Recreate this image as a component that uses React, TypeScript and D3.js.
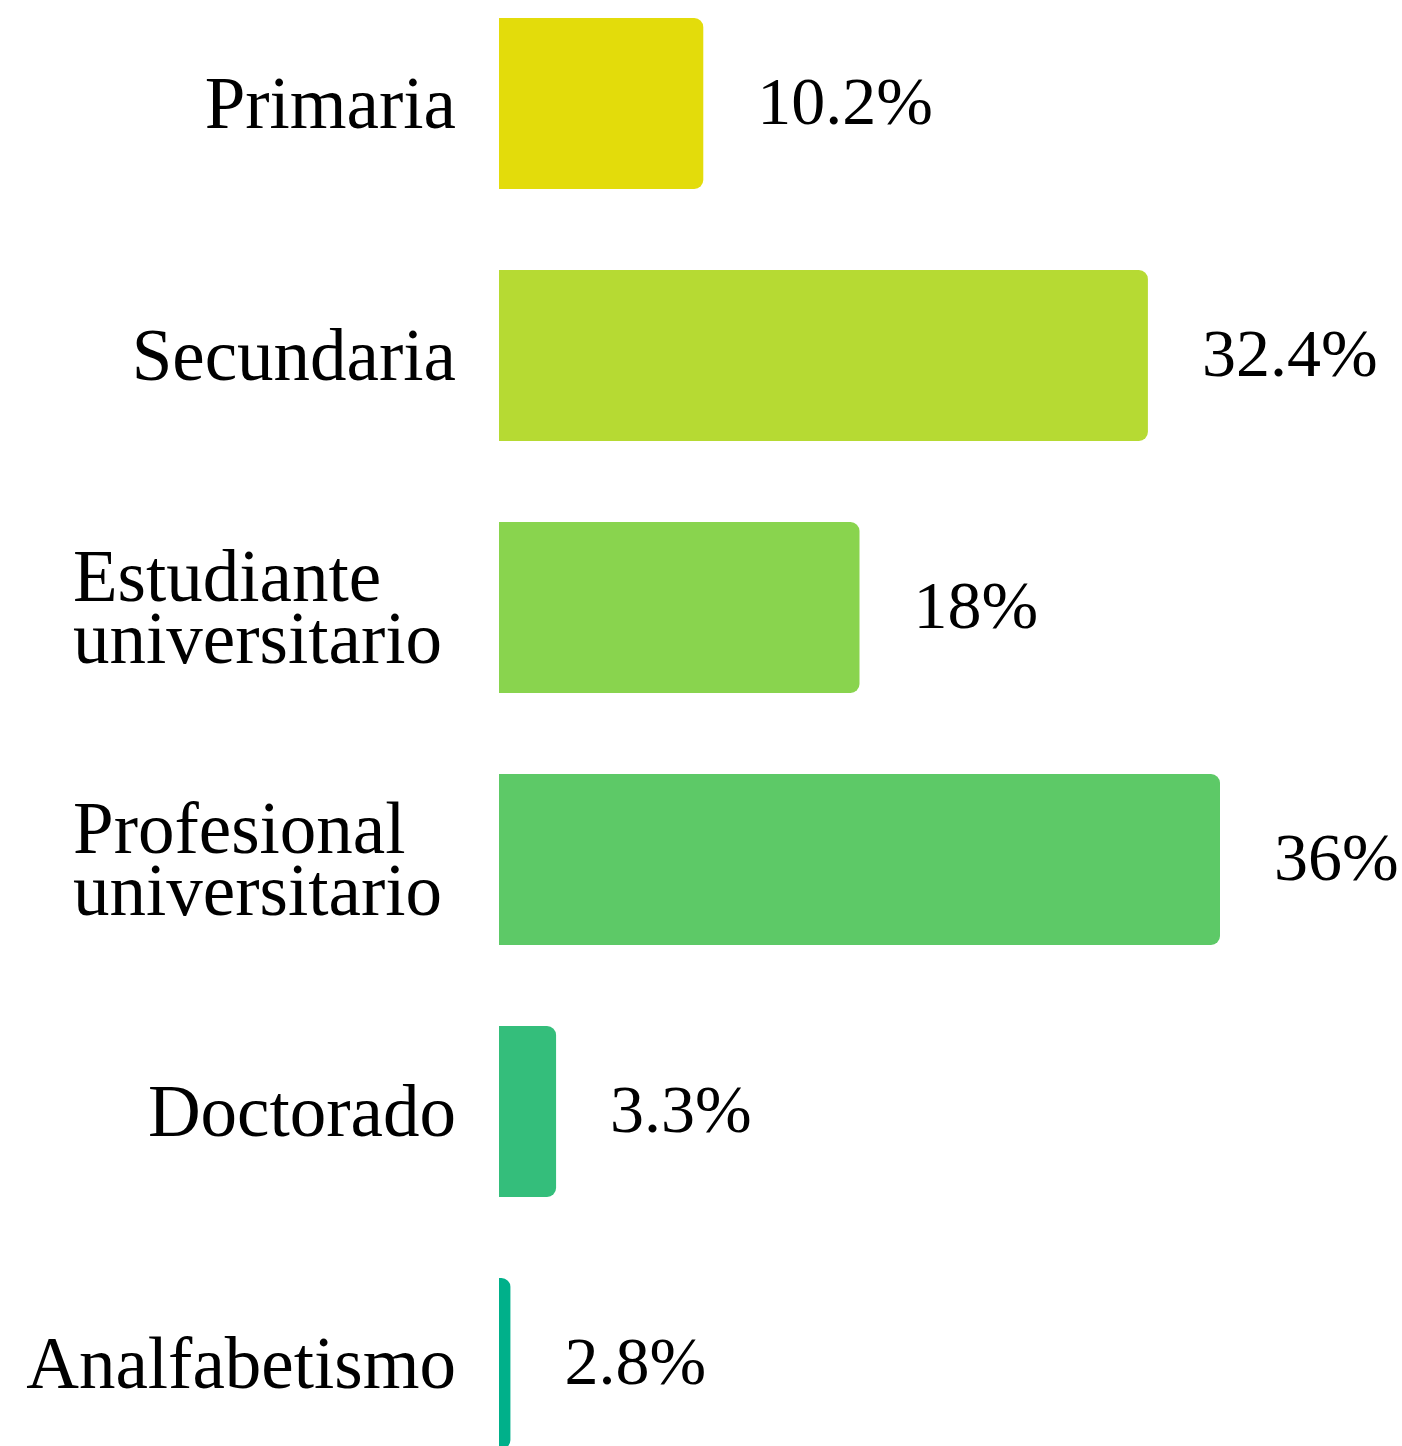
import { useEffect, useRef } from "react";
import * as d3 from "d3";

// Categorías (cada elemento es una línea de la etiqueta)
const categorias: string[][] = [
  ["Primaria"],
  ["Secundaria"],
  ["Estudiante", "universitario"],
  ["Profesional", "universitario"],
  ["Doctorado"],
  ["Analfabetismo"],
];

// Longitud de cada barra tal como se ve en la imagen
const longitudes = [10.2, 32.4, 18, 36, 2.85, 0.57];

// Porcentaje impreso junto a cada barra
const porcentajes = [10.2, 32.4, 18, 36, 3.3, 2.8];

const colores = ["#e3dc0b", "#b6da33", "#89d44e", "#5dc967", "#34be7b", "#00b08a"];

const ANCHO = 1402;
const ALTO = 1446;

const App = () => {
  const svgRef = useRef<SVGSVGElement | null>(null);

  useEffect(() => {
    if (!svgRef.current) return;
    const svg = d3.select(svgRef.current);
    svg.selectAll("*").remove();

    const fuente = "'Liberation Serif', 'Times New Roman', serif";
    const tamCat = 73;
    const tamValor = 68;
    const interlineado = 62;
    const bordeEtiquetas = 456; // borde derecho de las etiquetas de una línea
    const bordeBloque = 442; // borde derecho de los bloques de dos líneas
    const radio = 9;

    const claves = categorias.map((c) => c.join(" "));

    const x = d3.scaleLinear().domain([0, 36]).range([499, 1220]);

    const y = d3
      .scaleBand<string>()
      .domain(claves)
      .range([18, 18 + 5 * 252 + 171])
      .paddingInner(81 / 252)
      .paddingOuter(0);

    const h = y.bandwidth();

    // barra con las esquinas derechas redondeadas
    const barra = (x0: number, x1: number, y0: number) => {
      const r = Math.min(radio, (x1 - x0) / 1.2, h / 2);
      const p = d3.path();
      p.moveTo(x0, y0);
      p.lineTo(x1 - r, y0);
      p.arcTo(x1, y0, x1, y0 + r, r);
      p.lineTo(x1, y0 + h - r);
      p.arcTo(x1, y0 + h, x1 - r, y0 + h, r);
      p.lineTo(x0, y0 + h);
      p.closePath();
      return p.toString();
    };

    const filas = claves.map((k, i) => ({
      clave: k,
      lineas: categorias[i],
      largo: longitudes[i],
      pct: porcentajes[i],
      color: colores[i],
    }));

    svg
      .append("g")
      .selectAll("path")
      .data(filas)
      .enter()
      .append("path")
      .attr("d", (d) => barra(x(0), x(d.largo), y(d.clave)!))
      .attr("fill", (d) => d.color);

    // Etiquetas de valor
    svg
      .append("g")
      .selectAll("text")
      .data(filas)
      .enter()
      .append("text")
      .attr("x", (d) => x(d.largo) + 54)
      .attr("y", (d) => y(d.clave)! + h / 2 + (tamValor * 0.676) / 2 - 2)
      .style("font-family", fuente)
      .style("font-size", `${tamValor}px`)
      .style("fill", "#000")
      .text((d) => `${d.pct}%`);

    // Etiquetas de categoría
    const gCat = svg.append("g");
    filas.forEach((d) => {
      const centro = y(d.clave)! + h / 2;
      const n = d.lineas.length;
      const base0 = centro + (tamCat * 0.662) / 2 - ((n - 1) * interlineado) / 2;
      if (n === 1) {
        gCat
          .append("text")
          .attr("x", bordeEtiquetas)
          .attr("y", base0)
          .attr("text-anchor", "end")
          .style("font-family", fuente)
          .style("font-size", `${tamCat}px`)
          .style("fill", "#000")
          .text(d.lineas[0]);
      } else {
        const lineas = d.lineas.map((l, j) =>
          gCat
            .append("text")
            .attr("y", base0 + j * interlineado)
            .style("font-family", fuente)
            .style("font-size", `${tamCat}px`)
            .style("fill", "#000")
            .text(l)
        );
        const anchoMax =
          d3.max(lineas, (s) => (s.node() as SVGTextElement).getComputedTextLength()) || 0;
        lineas.forEach((s) => s.attr("x", bordeBloque - anchoMax));
      }
    });
  }, []);

  return (
    <svg
      ref={svgRef}
      width={ANCHO}
      height={ALTO}
      style={{ position: "absolute", left: 0, top: 0, background: "#fff" }}
    />
  );
};

export default App;
